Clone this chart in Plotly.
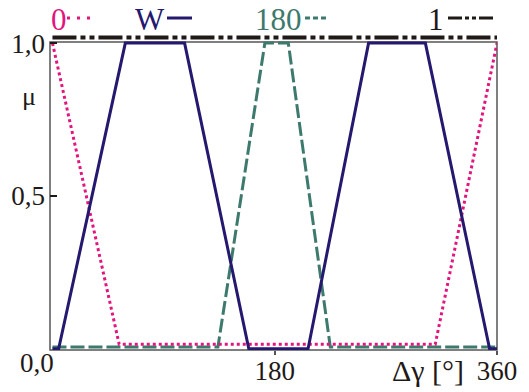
import plotly.graph_objects as go

# ---- data ----
angle_0 = [0, 54, 310, 360]
mu_0 = [1.0, 0.015, 0.015, 1.0]

angle_w = [0, 5, 59, 107, 159, 207, 256, 302, 354, 360]
mu_w = [0, 0, 1, 1, 0, 0, 1, 1, 0, 0]

angle_180 = [0, 134, 172, 191, 225, 360]
mu_180 = [0.006, 0.006, 1.0, 1.0, 0.006, 0.006]

angle_1 = [0, 360]
mu_1 = [1.0, 1.0]

x_tickvals = [180, 360]
x_ticktext = ["180", "360"]
y_tickvals = [0.5, 1.0]
y_ticktext = ["0,5", "1,0"]

series_names = ["0", "W", "180", "1"]

# ---- styles ----
PINK = "#E2157E"
NAVY = "#24186F"
TEAL = "#3D7A6D"
BLACK = "#1F1A17"
FRAME = "#555555"
FONT = "Liberation Serif"

W, H = 529, 392
L, R, T, B = 50, 32, 33, 42
PW, PH = W - L - R, H - T - B


def px(x):
    return (x - L) / PW


def py(y):
    return (H - B - y) / PH


fig = go.Figure()
fig.add_trace(go.Scatter(x=angle_180, y=mu_180, mode="lines", name=series_names[2],
                         line=dict(color=TEAL, width=3, dash="14px,4px")))
fig.add_trace(go.Scatter(x=angle_0, y=mu_0, mode="lines", name=series_names[0],
                         line=dict(color=PINK, width=3, dash="3px,3px")))
fig.add_trace(go.Scatter(x=angle_w, y=mu_w, mode="lines", name=series_names[1],
                         line=dict(color=NAVY, width=3)))
fig.add_trace(go.Scatter(x=angle_1, y=mu_1, mode="lines", name=series_names[3], yaxis="y2",
                         line=dict(color=BLACK, width=4, dash="24px,4px,5px,4px,5px,4px")))

shapes = [
    dict(type="rect", xref="paper", yref="paper", x0=0, x1=1, y0=0, y1=py(42),
         line=dict(color=FRAME, width=1.5), layer="below"),
    # legend samples
    dict(type="line", xref="paper", yref="paper", x0=px(67), x1=px(96), y0=py(18), y1=py(18),
         line=dict(color=PINK, width=3, dash="3px,7px")),
    dict(type="line", xref="paper", yref="paper", x0=px(167), x1=px(192), y0=py(18), y1=py(18),
         line=dict(color=NAVY, width=3)),
    dict(type="line", xref="paper", yref="paper", x0=px(305), x1=px(329), y0=py(18), y1=py(18),
         line=dict(color=TEAL, width=3, dash="5px,3px")),
    dict(type="line", xref="paper", yref="paper", x0=px(448), x1=px(493), y0=py(18), y1=py(18),
         line=dict(color=BLACK, width=3, dash="14px,3px,4px,3px,4px,3px,14px")),
]

annotations = [
    dict(text=series_names[0], x=px(59), y=py(19), font=dict(color=PINK, size=31, family=FONT)),
    dict(text=series_names[1], x=px(150), y=py(19), font=dict(color=NAVY, size=31, family=FONT)),
    dict(text=series_names[2], x=px(278), y=py(19), font=dict(color=TEAL, size=31, family=FONT)),
    dict(text=series_names[3], x=px(436), y=py(19), font=dict(color=BLACK, size=31, family=FONT)),
    dict(text="0,0", x=px(37), y=py(363), font=dict(color=BLACK, size=27, family=FONT)),
    dict(text="Δγ [°]", x=px(428), y=py(370), font=dict(color=BLACK, size=30, family=FONT)),
    dict(text="μ", x=px(29), y=py(97), font=dict(color=BLACK, size=26, family=FONT)),
]
for a in annotations:
    a.update(xref="paper", yref="paper", showarrow=False, xanchor="center", yanchor="middle")

fig.update_layout(
    width=W, height=H,
    margin=dict(l=L, r=R, t=T, b=B, pad=0, autoexpand=False),
    paper_bgcolor="white", plot_bgcolor="white",
    showlegend=False,
    shapes=shapes, annotations=annotations,
    xaxis=dict(range=[-2, 360], showgrid=False, zeroline=False, showline=False,
               automargin=False,
               tickvals=x_tickvals, ticktext=x_ticktext, ticks="outside", ticklen=4,
               tickwidth=1.5, tickcolor=FRAME, ticklabelstandoff=-7,
               tickfont=dict(family=FONT, size=27, color=BLACK)),
    yaxis=dict(range=[-0.004, 1.033], showgrid=False, zeroline=False, showline=False,
               automargin=False,
               tickvals=y_tickvals, ticktext=y_ticktext, ticks="inside", ticklen=7,
               tickwidth=1.5, tickcolor=BLACK, ticklabelstandoff=4,
               tickfont=dict(family=FONT, size=27, color=BLACK)),
    yaxis2=dict(range=[0, 1.0144], overlaying="y", visible=False, showgrid=False,
                zeroline=False, automargin=False),
)

fig.write_html("out.html", config={"displayModeBar": False},
               post_script="document.body.style.margin='0px';")
